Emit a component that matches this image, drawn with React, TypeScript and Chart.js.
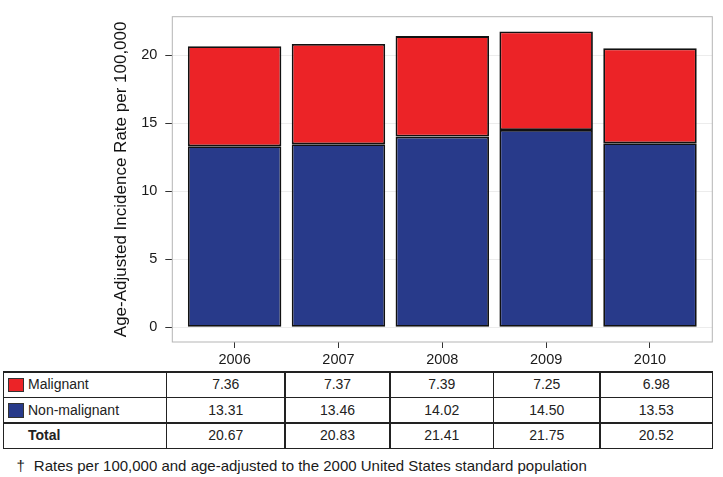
import React, { useEffect, useRef } from 'react';
import { Chart, registerables } from 'chart.js';

Chart.register(...registerables);

const years = ['2006', '2007', '2008', '2009', '2010'];
const malignant = [7.36, 7.37, 7.39, 7.25, 6.98];
const nonMalignant = [13.31, 13.46, 14.02, 14.5, 13.53];
const totals = [20.67, 20.83, 21.41, 21.75, 20.52];
const yTicks = [0, 5, 10, 15, 20];
const seriesNames = ['Malignant', 'Non-malignant'];
const totalLabel = 'Total';
const yTitle = 'Age-Adjusted Incidence Rate per 100,000';
const footnote = 'Rates per 100,000 and age-adjusted to the 2000 United States standard population';

const RED = '#ec2327';
const BLUE = '#283a8a';
const FONT = '"Liberation Sans", Arial, Helvetica, sans-serif';

const panelBorder = {
  id: 'panelBorder',
  afterDraw(chart: any) {
    const { ctx, chartArea } = chart;
    ctx.save();
    ctx.strokeStyle = '#b5b5b5';
    ctx.lineWidth = 1;
    ctx.strokeRect(chartArea.left, chartArea.top, chartArea.right - chartArea.left, chartArea.bottom - chartArea.top);
    ctx.restore();
  },
};

function BarChart() {
  const ref = useRef<HTMLCanvasElement>(null);
  useEffect(() => {
    if (!ref.current) return;
    const chart = new Chart(ref.current, {
      type: 'bar',
      data: {
        datasets: [
          {
            label: seriesNames[1],
            data: nonMalignant.map((v, i) => ({ x: i + 1, y: v })),
            backgroundColor: BLUE,
            borderColor: '#111',
            borderWidth: 1.8,
            borderSkipped: false,
          },
          {
            label: seriesNames[0],
            data: malignant.map((v, i) => ({ x: i + 1, y: v })),
            backgroundColor: RED,
            borderColor: '#111',
            borderWidth: 1.8,
            borderSkipped: false,
          },
        ],
      } as any,
      options: {
        animation: false,
        responsive: false,
        layout: { padding: { top: 3, right: 10.7, left: 0, bottom: 0 } },
        plugins: { legend: { display: false }, tooltip: { enabled: false } },
        datasets: { bar: { barPercentage: 0.9, categoryPercentage: 1 } },
        scales: {
          x: {
            type: 'linear',
            stacked: true,
            offset: false,
            min: 0.4,
            max: 5.6,
            afterBuildTicks: (s: any) => {
              s.ticks = years.map((_, i) => ({ value: i + 1 }));
            },
            afterFit: (s: any) => {
              s.height = 24;
            },
            ticks: {
              autoSkip: false,
              maxRotation: 0,
              padding: 3,
              color: '#1a1a1a',
              font: { family: FONT, size: 14.5 },
              callback: (v: any) => years[Math.round(Number(v)) - 1] ?? '',
            },
            grid: { offset: false, drawOnChartArea: false, tickLength: 6, tickColor: '#333', lineWidth: 1 },
            border: { display: false },
          },
          y: {
            type: 'linear',
            stacked: true,
            min: -1.0875,
            max: 22.8375,
            afterBuildTicks: (s: any) => {
              s.ticks = yTicks.map((v) => ({ value: v }));
            },
            afterFit: (s: any) => {
              s.width = 172.3;
            },
            ticks: {
              padding: 8,
              color: '#1a1a1a',
              font: { family: FONT, size: 14.5 },
            },
            grid: { color: '#ececec', tickColor: '#333', tickLength: 7, lineWidth: 1 },
            border: { display: false },
            title: {
              display: true,
              text: yTitle,
              color: '#111',
              font: { family: FONT, size: 17 },
              padding: { top: 111, bottom: 0 },
            },
          },
        },
      } as any,
      plugins: [panelBorder],
    });
    return () => chart.destroy();
  }, []);
  return <canvas ref={ref} width={723} height={366} style={{ position: 'absolute', left: 0, top: 0 }} />;
}

const hEdges = [372, 397.5, 423, 448.5];
const vEdges = [3.5, 166.5, 285, 390, 493.5, 600, 712.5];

function DataTable() {
  const rows = [
    { label: seriesNames[0], color: RED, values: malignant, bold: false },
    { label: seriesNames[1], color: BLUE, values: nonMalignant, bold: false },
    { label: totalLabel, color: null as string | null, values: totals, bold: true },
  ];
  const lineColor = '#222';
  const lw = 1.5;
  const els: React.ReactNode[] = [];
  hEdges.forEach((y, i) =>
    els.push(
      <div key={'h' + i} style={{ position: 'absolute', left: vEdges[0] - lw / 2, top: y - lw / 2, width: vEdges[vEdges.length - 1] - vEdges[0] + lw, height: lw, background: lineColor }} />
    )
  );
  vEdges.forEach((x, i) =>
    els.push(
      <div key={'v' + i} style={{ position: 'absolute', left: x - lw / 2, top: hEdges[0] - lw / 2, width: lw, height: hEdges[hEdges.length - 1] - hEdges[0] + lw, background: lineColor }} />
    )
  );
  rows.forEach((r, ri) => {
    const top = hEdges[ri];
    const h = hEdges[ri + 1] - hEdges[ri];
    if (r.color) {
      els.push(
        <div key={'sw' + ri} style={{ position: 'absolute', left: 8, top: top + (h - 14) / 2, width: 13.5, height: 12.5, background: r.color, border: '1px solid #333' }} />
      );
    }
    els.push(
      <div key={'lb' + ri} style={{ position: 'absolute', left: 28, top, height: h, lineHeight: h + 'px', fontWeight: r.bold ? 'bold' : 'normal', fontSize: 14, color: '#222', whiteSpace: 'nowrap' }}>
        {r.label}
      </div>
    );
    r.values.forEach((v, ci) => {
      const l = vEdges[ci + 1];
      const w = vEdges[ci + 2] - l;
      els.push(
        <div key={'c' + ri + '-' + ci} style={{ position: 'absolute', left: l, top, width: w, height: h, lineHeight: h + 'px', textAlign: 'center', fontSize: 14, color: '#222' }}>
          {v.toFixed(2)}
        </div>
      );
    });
  });
  return <>{els}</>;
}

export default function App() {
  return (
    <div style={{ position: 'absolute', left: 0, top: 0, width: 723, height: 477, background: '#fff', fontFamily: FONT, overflow: 'hidden' }}>
      <BarChart />
      <DataTable />
      <div style={{ position: 'absolute', left: 16.5, top: 456, fontSize: 15, color: '#1a1a1a', whiteSpace: 'nowrap', lineHeight: '19px' }}>
        <span>†</span>
        <span style={{ marginLeft: 9 }}>{footnote}</span>
      </div>
    </div>
  );
}
